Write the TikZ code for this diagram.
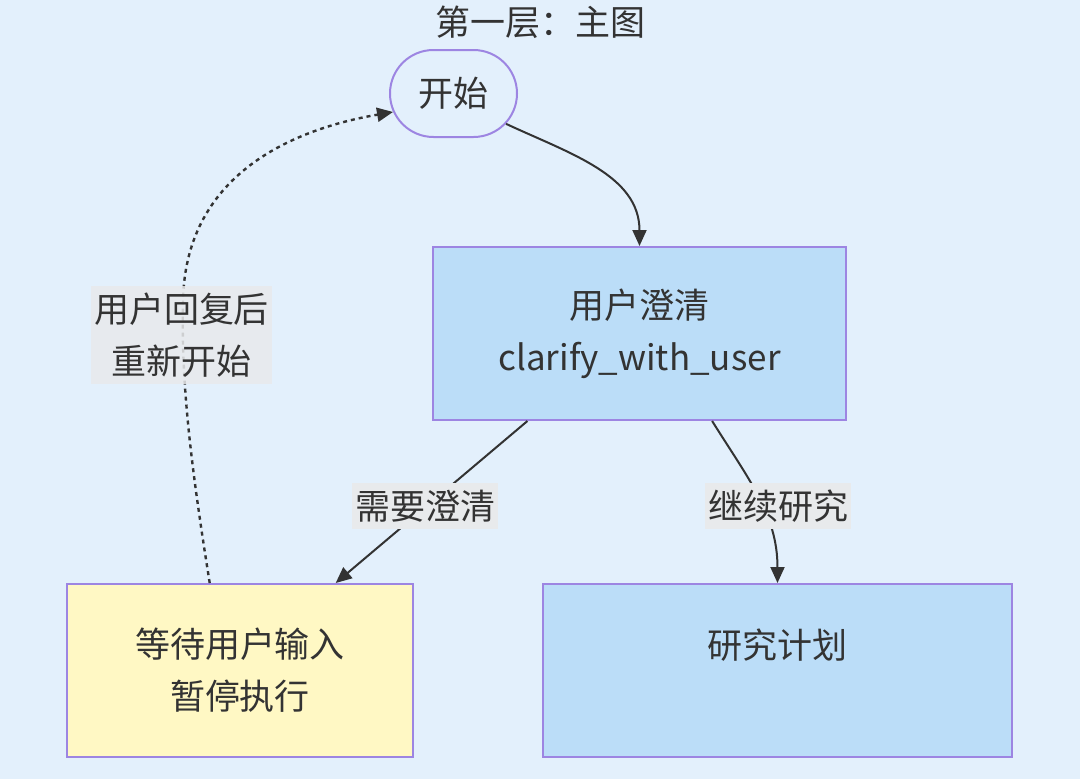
\documentclass[tikz,border=0pt]{standalone}
\usepackage{fontspec}
\setmainfont{Noto Sans CJK SC}
\usetikzlibrary{arrows.meta,shapes.misc,calc}
\definecolor{bgc}{HTML}{E3F0FC}
\definecolor{boxblue}{HTML}{BBDDF8}
\definecolor{boxyellow}{HTML}{FFF8C4}
\definecolor{edgec}{HTML}{9D85E2}
\definecolor{txtc}{HTML}{333333}
\definecolor{lblc}{HTML}{E8EAEC}
\tikzset{
  txt/.style={font=\fontsize{35}{52}\selectfont, text=txtc, align=center, inner sep=0pt},
  boxnode/.style={txt, draw=edgec, line width=2pt, rectangle},
  startnode/.style={txt, draw=edgec, line width=2pt, rounded rectangle, fill=bgc},
  lbl/.style={txt, fill=lblc, inner xsep=3pt, inner ysep=7pt},
  conn/.style={draw=txtc, line width=2pt, -{Triangle[length=16pt,width=14pt]}},
  dotconn/.style={conn, line width=2.4pt, dash pattern=on 4pt off 4pt}
}
\begin{document}
\begin{tikzpicture}[x=1pt,y=-1pt]
\fill[bgc] (0,0) rectangle (1080,779);
\useasboundingbox (0,0) rectangle (1080,779);

\node[txt] (title) at (540,22) {第一层：主图};
\node[startnode, minimum width=127pt, minimum height=87pt] (start) at (453.5,93.5) {开始};
\node[boxnode, fill=boxblue, minimum width=413pt, minimum height=173pt] (clarify) at (639.5,333.5) {用户澄清\\clarify\_with\_user};
\node[boxnode, fill=boxyellow, minimum width=346pt, minimum height=173pt] (wait) at (240,670.5) {等待用户输入\\暂停执行};
\node[boxnode, fill=boxblue, minimum width=469pt, minimum height=173pt] (plan) at (777.5,670.5) {};
\node[txt] (plantext) at (777.5,645) {研究计划};

\draw[conn] (start.-30) to[out=-25,in=90] (clarify.north);

\draw[conn] ($(clarify.south west)!0.23!(clarify.south east)$) -- ($(wait.north west)!0.775!(wait.north east)$);
\node[lbl] (l1) at (425,506) {需要澄清};

\draw[conn] ($(clarify.south west)!0.675!(clarify.south east)$) to[out=-58,in=90] (plan.north);
\node[lbl] (l2) at (778,506) {继续研究};

\coordinate (mid) at (183,300);
\draw[dotconn] ($(wait.north west)!0.413!(wait.north east)$) .. controls (190,460) and (181,380) .. (mid) .. controls (186,170) and (300,128) .. (start.197);
\node[lbl, fill opacity=0.85, text opacity=1] (l3) at (181.5,335) {用户回复后\\重新开始};
\end{tikzpicture}
\end{document}
